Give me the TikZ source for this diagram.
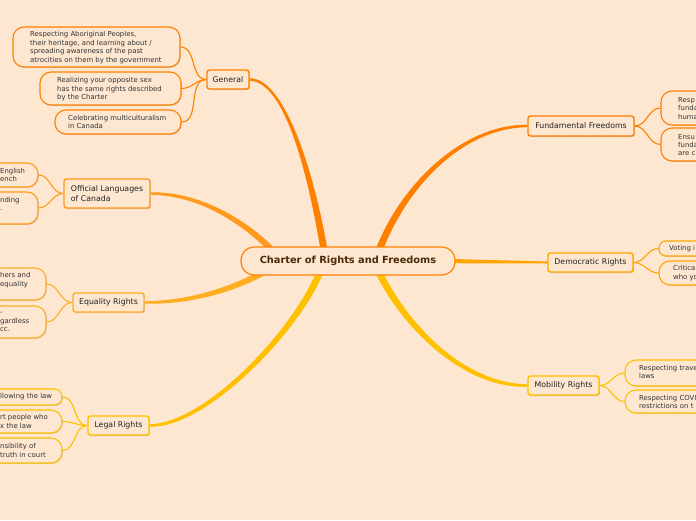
\documentclass[tikz,border=0pt]{standalone}
\usepackage{fontspec}
\setmainfont{DejaVu Sans}
\usetikzlibrary{calc,shadows}
\definecolor{bgc}{HTML}{FDE7D1}
\definecolor{cA}{HTML}{FF8000}
\definecolor{cB}{HTML}{FF9A1A}
\definecolor{cC}{HTML}{FFAE22}
\definecolor{cD}{HTML}{FFA500}
\definecolor{cE}{HTML}{FFC000}
\definecolor{ktxt}{HTML}{333333}
\definecolor{mtxt}{HTML}{222222}
\definecolor{ctxt}{HTML}{4A2A08}
\pgfdeclarelayer{back}\pgfdeclarelayer{links}\pgfsetlayers{back,links,main}
\tikzset{
 kidbox/.style={fill=bgc, line width=1.1pt, inner sep=0pt,
   drop shadow={shadow xshift=0.8pt, shadow yshift=-0.9pt, opacity=0.3, fill=black!55}},
 kidtext/.style={inner sep=0pt, align=left, font=\fontsize{6.9}{8.4}\selectfont, text=ktxt},
 mainbox/.style={fill=bgc, line width=1.4pt, rounded corners=2.5pt, inner sep=0pt,
   font=\fontsize{7.8}{9.2}\selectfont, text=mtxt,
   drop shadow={shadow xshift=0.9pt, shadow yshift=-1pt, opacity=0.3, fill=black!55}},
 ctrbox/.style={fill=bgc, draw=cA, line width=1.2pt, rounded corners=13pt, inner sep=0pt,
   minimum width=214pt, minimum height=28pt, font=\fontsize{9.8}{11}\selectfont\bfseries, text=ctxt},
 twig/.style={line width=1.1pt}
}
\newcommand\kbox[6]{%
 \pgfmathsetmacro\kbw{#3-#2}\pgfmathsetmacro\kbh{#5-#4}%
 \pgfmathsetmacro\kbr{min(11,\kbh/2-0.5)}%
 \pgfmathsetmacro\kbx{(#2+#3)/2}\pgfmathsetmacro\kby{(#4+#5)/2}%
 \node[kidbox, draw=#6, minimum width=\kbw pt, minimum height=\kbh pt, rounded corners=\kbr pt] (#1) at (\kbx,\kby) {};}
\newcommand\ktext[4]{\node[kidtext, anchor=west] (#1) at (#2,#3) {#4};}
\begin{document}
\begin{tikzpicture}[x=1pt,y=-1pt]
\useasboundingbox (0,0) rectangle (696,520);
\begin{pgfonlayer}{back}
\fill[bgc] (0,0) rectangle (696,520);
\end{pgfonlayer}

% main nodes
\node[ctrbox] (ctr) at (348,261) {Charter of Rights and Freedoms};
\node[mainbox, draw=cA, minimum width=42pt, minimum height=19pt] (gen) at (228,79.5) {General};
\node[mainbox, draw=cB, minimum width=86pt, minimum height=29pt, align=left] (off) at (107,193.5) {Official Languages\\of Canada};
\node[mainbox, draw=cC, minimum width=71pt, minimum height=19pt] (eq) at (108.5,302.5) {Equality Rights};
\node[mainbox, draw=cE, minimum width=61pt, minimum height=19pt] (leg) at (118.5,425.5) {Legal Rights};
\node[mainbox, draw=cA, minimum width=106pt, minimum height=20pt] (fund) at (581,126) {Fundamental Freedoms};
\node[mainbox, draw=cD, minimum width=85pt, minimum height=19pt] (dem) at (590.5,262.5) {Democratic Rights};
\node[mainbox, draw=cE, minimum width=71pt, minimum height=19pt] (mob) at (563.5,385.5) {Mobility Rights};

% General children
\kbox{gA}{13}{180}{27}{67}{cA}
\ktext{gAt}{30}{47.5}{Respecting Aboriginal Peoples,\\their heritage, and learning about /\\spreading awareness of the past\\atrocities on them by the government}
\kbox{gB}{40}{181}{72}{105}{cA}
\ktext{gBt}{57}{89.3}{Realizing your opposite sex\\has the same rights described\\by the Charter}
\kbox{gC}{55}{181}{110}{134}{cA}
\ktext{gCt}{68}{122.2}{Celebrating multiculturalism\\in Canada}

% Official languages children
\kbox{oA}{-12}{38}{163}{187}{cB}
\ktext{oAt}{0}{175}{English\\ench}
\kbox{oB}{-12}{38}{192}{224}{cB}
\ktext{oBt}{0}{203.6}{nding\\.}

% Equality children
\kbox{eA}{-12}{46}{268}{300}{cC}
\ktext{eAt}{0}{280}{hers and\\equality}
\kbox{eB}{-12}{46}{306}{338}{cC}
\ktext{eBt}{0}{322}{-\\gardless\\cc.}

% Legal children
\kbox{lA}{-12}{62}{389}{405}{cE}
\ktext{lAt}{0}{397}{llowing the law}
\kbox{lB}{-12}{62}{410}{433}{cE}
\ktext{lBt}{0}{421.5}{rt people who\\x the law}
\kbox{lC}{-12}{62}{438}{463}{cE}
\ktext{lCt}{0}{450.5}{nsibility of\\truth in court}

% Fundamental children
\kbox{fA}{661}{720}{91}{125}{cA}
\ktext{fAt}{678}{108.3}{Resp\\funda\\huma}
\kbox{fB}{661}{720}{128}{161}{cA}
\ktext{fBt}{678}{145}{Ensu\\funda\\are c}

% Democratic children
\kbox{dA}{659}{720}{241}{256}{cD}
\ktext{dAt}{669}{248.5}{Voting i}
\kbox{dB}{659}{720}{261}{285}{cD}
\ktext{dBt}{673}{273}{Critica\\who yo}

% Mobility children
\kbox{mA}{625}{720}{360}{386}{cE}
\ktext{mAt}{639}{372}{Respecting trave\\laws}
\kbox{mB}{625}{720}{390}{413}{cE}
\ktext{mBt}{639}{401.7}{Respecting COVI\\restrictions on t}

\begin{pgfonlayer}{links}
% trunks
\fill[cA] ($(ctr.center)+(-26.5,-5)$) .. controls (308.5,175) and (285,81.5) .. ($(gen.east)+(0,1.2)$)
  -- ($(gen.east)+(0,-1.2)$) .. controls (285,77.5) and (315.5,175) .. ($(ctr.center)+(-19.5,-5)$) -- cycle;
\fill[cA] ($(ctr.center)+(25.7,-6.2)$) .. controls (396.7,188.8) and (460,124) .. ($(fund.west)+(0,-1.2)$)
  -- ($(fund.west)+(0,1.2)$) .. controls (460,128) and (403.3,191.2) .. ($(ctr.center)+(32.3,-3.8)$) -- cycle;
\fill[cD] ($(ctr.east)+(-10,-2.2)$) -- ($(dem.west)+(0,-1)$) -- ($(dem.west)+(0,1)$) -- ($(ctr.east)+(-10,2.2)$) -- cycle;
\fill[cE] ($(ctr.center)+(31.2,3.6)$) .. controls (403.2,318.6) and (460,383) .. ($(mob.west)+(0,-1.2)$)
  -- ($(mob.west)+(0,1.2)$) .. controls (460,389) and (396.8,321.4) .. ($(ctr.center)+(24.8,6.4)$) -- cycle;
\fill[cE] ($(ctr.center)+(-22.7,6)$) .. controls (308.3,321) and (210,428.5) .. ($(leg.east)+(0,1.2)$)
  -- ($(leg.east)+(0,-1.2)$) .. controls (210,422.5) and (301.7,319) .. ($(ctr.center)+(-29.3,4)$) -- cycle;
\fill[cB] ($(ctr.center)+(-71.8,-11.1)$) .. controls (247.2,219.9) and (200,191.5) .. ($(off.east)+(0,-1.2)$)
  -- ($(off.east)+(0,1.2)$) .. controls (200,195.5) and (242.8,224.1) .. ($(ctr.center)+(-76.2,-6.9)$) -- cycle;
\fill[cC] ($(ctr.center)+(-78.5,11.6)$) .. controls (233.5,293) and (190,304.5) .. ($(eq.east)+(0,1.2)$)
  -- ($(eq.east)+(0,-1.2)$) .. controls (190,300.5) and (230.5,287.4) .. ($(ctr.center)+(-81.5,6.4)$) -- cycle;
% twigs
\draw[twig, cA] (gen.west) to[out=180,in=0] (gA.east);
\draw[twig, cA] (gen.west) to[out=180,in=0] (gB.east);
\draw[twig, cA] (gen.west) to[out=180,in=0] (gC.east);
\draw[twig, cB] (off.west) to[out=180,in=0] (oA.east);
\draw[twig, cB] (off.west) to[out=180,in=0] (oB.east);
\draw[twig, cC] (eq.west) to[out=180,in=0] (eA.east);
\draw[twig, cC] (eq.west) to[out=180,in=0] (eB.east);
\draw[twig, cE] (leg.west) to[out=180,in=0] (lA.east);
\draw[twig, cE] (leg.west) to[out=180,in=0] (lB.east);
\draw[twig, cE] (leg.west) to[out=180,in=0] (lC.east);
\draw[twig, cA] (fund.east) to[out=0,in=180] (fA.west);
\draw[twig, cA] (fund.east) to[out=0,in=180] (fB.west);
\draw[twig, cD] (dem.east) to[out=0,in=180] (dA.west);
\draw[twig, cD] (dem.east) to[out=0,in=180] (dB.west);
\draw[twig, cE] (mob.east) to[out=0,in=180] (mA.west);
\draw[twig, cE] (mob.east) to[out=0,in=180] (mB.west);
\end{pgfonlayer}
\end{tikzpicture}
\end{document}
